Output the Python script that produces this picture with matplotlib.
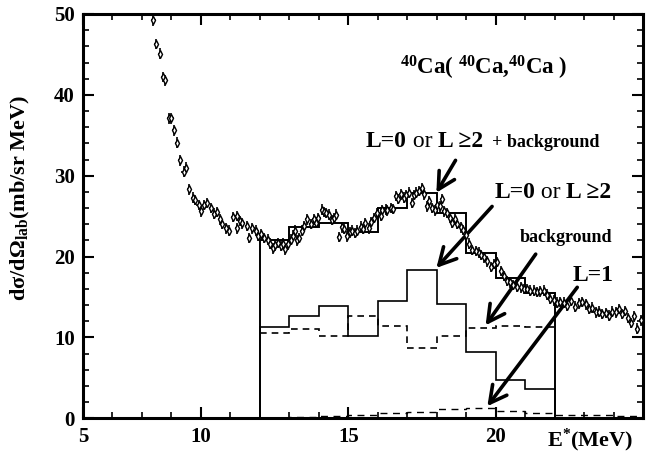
import numpy as np
import matplotlib
matplotlib.use("Agg")
import matplotlib.pyplot as plt
from matplotlib.offsetbox import TextArea, HPacker, AnnotationBbox
from matplotlib.ticker import MultipleLocator

plt.rcParams['font.family'] = ['Liberation Serif', 'DejaVu Serif']
plt.rcParams['font.weight'] = 'bold'
plt.rcParams['axes.labelweight'] = 'bold'
plt.rcParams['mathtext.fontset'] = 'custom'
plt.rcParams['mathtext.rm'] = 'Liberation Serif:bold'
plt.rcParams['mathtext.bf'] = 'Liberation Serif:bold'
plt.rcParams['mathtext.it'] = 'Liberation Serif:bold:italic'

# =========================
# DATA
# =========================
energy = [8.39, 8.49, 8.61, 8.70, 8.78, 8.93, 9.00, 9.08, 9.20, 9.30,
          9.41, 9.49, 9.60, 9.72, 9.80, 9.92, 10.00, 10.11, 10.22, 10.34,
          10.45, 10.56, 10.65, 10.73, 10.85, 10.96, 11.09, 11.21, 11.24, 11.33,
          11.41, 11.55, 11.64, 11.75, 11.86, 11.95, 12.05, 12.15, 12.26, 12.35,
          12.43, 12.52, 12.60, 12.71, 12.80, 12.86, 12.95, 13.05, 13.12, 13.20,
          13.27, 13.33, 13.42, 13.50, 13.61, 13.73, 13.84, 13.92, 13.99, 14.10,
          14.17, 14.24, 14.35, 14.46, 14.53, 14.60, 14.69, 14.78, 14.86, 14.97,
          15.05, 15.14, 15.22, 15.31, 15.42, 15.50, 15.57, 15.70, 15.78, 15.87,
          15.99, 16.10, 16.16, 16.27, 16.33, 16.44, 16.53, 16.61, 16.70, 16.78,
          16.89, 16.97, 17.06, 17.17, 17.24, 17.31, 17.40, 17.49, 17.57, 17.68,
          17.74, 17.85, 17.93, 18.02, 18.10, 18.17, 18.25, 18.36, 18.45, 18.53,
          18.62, 18.70, 18.81, 18.90, 19.00, 19.10, 19.21, 19.32, 19.43, 19.52,
          19.60, 19.72, 19.83, 19.94, 20.05, 20.17, 20.28, 20.39, 20.50, 20.60,
          20.72, 20.85, 20.95, 21.07, 21.18, 21.30, 21.40, 21.52, 21.63, 21.75,
          21.86, 21.97, 22.09, 22.20, 22.32, 22.43, 22.55, 22.70, 22.82, 22.94,
          23.05, 23.16, 23.27, 23.39, 23.50, 23.61, 23.73, 23.84, 23.95, 24.07,
          24.18, 24.29, 24.40, 24.50, 24.58, 24.70, 24.80, 24.92]
xsec = [49.2, 46.3, 45.1, 42.2, 41.8, 37.1, 37.1, 35.6, 34.1, 31.9,
        30.5, 31.0, 28.3, 27.3, 27.0, 26.4, 25.6, 26.4, 26.6, 26.0,
        25.3, 25.5, 24.6, 24.0, 23.5, 23.2, 24.9, 23.5, 25.0, 24.4,
        24.1, 23.8, 22.3, 23.5, 23.2, 22.6, 22.8, 22.3, 22.1, 21.6,
        21.0, 21.4, 21.7, 21.3, 21.6, 20.9, 21.5, 22.1, 22.6, 23.2,
        22.0, 22.3, 23.2, 23.8, 24.6, 24.0, 24.6, 24.2, 24.8, 25.8,
        25.5, 25.4, 25.2, 24.5, 24.8, 25.2, 22.4, 23.6, 23.4, 22.5,
        23.0, 23.2, 22.9, 23.2, 23.7, 23.4, 24.1, 23.5, 24.3, 24.8,
        25.4, 25.0, 25.7, 25.8, 25.7, 26.0, 25.9, 27.5, 27.1, 27.7,
        27.3, 27.6, 27.9, 26.6, 27.6, 27.9, 28.1, 28.5, 27.7, 26.2,
        26.9, 26.0, 25.7, 26.4, 26.2, 27.1, 25.6, 25.4, 24.8, 24.2,
        24.6, 24.0, 23.6, 23.3, 22.7, 21.6, 20.8, 20.7, 20.5, 20.2,
        19.9, 19.4, 18.7, 19.1, 19.3, 18.2, 17.6, 17.0, 16.8, 16.5,
        16.3, 16.2, 16.0, 16.0, 15.8, 15.8, 15.6, 15.7, 15.8, 15.3,
        14.8, 14.6, 14.3, 14.4, 14.3, 13.9, 14.5, 13.8, 14.2, 14.4,
        14.1, 13.5, 13.7, 13.1, 13.2, 12.9, 13.0, 12.7, 13.2, 13.1,
        13.5, 12.9, 13.3, 12.4, 11.8, 12.6, 11.1, 12.1]

bin_edges = [12, 13, 14, 15, 16, 17, 18, 19, 20, 21, 22]
total_fit = [22.1, 23.6, 24.2, 23.0, 26.0, 27.9, 25.4, 20.5, 17.3, 15.5]
l0_l2 = [11.3, 12.6, 13.9, 10.2, 14.5, 18.4, 14.1, 8.2, 4.7, 3.6]
background = [10.6, 11.0, 10.2, 12.7, 11.4, 8.7, 10.2, 11.2, 11.4, 11.3]

l1_edges = [12, 13, 14, 15, 16, 17, 18, 19, 20, 21, 22, 23, 24, 25]
l1 = [0.1, 0.2, 0.3, 0.4, 0.6, 0.8, 1.1, 1.3, 0.9, 0.7, 0.45, 0.4, 0.3]

# =========================
# PLOT
# =========================
fig = plt.figure(figsize=(6.6, 4.54), dpi=100)
ax = fig.add_axes([0.1258, 0.0786, 0.8484, 0.8906])

ax.errorbar(energy, xsec, yerr=0.65, xerr=0.07, fmt='d', ms=3.8,
            mfc='white', mec='black', mew=1.0, ecolor='black',
            elinewidth=1.2, capsize=0, zorder=3)

ax.stairs(total_fit, bin_edges, baseline=0, color='black', lw=1.4)
ax.stairs(l0_l2, bin_edges, baseline=0, color='black', lw=1.2)
ax.stairs(background, bin_edges, baseline=None, color='black', lw=1.2,
          linestyle=(0, (4, 3)))
ax.stairs(l1, l1_edges, baseline=None, color='black', lw=1.0,
          linestyle=(0, (5, 4)))

ax.set_xlim(6, 25)
ax.set_ylim(0, 50)
ax.set_xticks([6, 10, 15, 20], labels=['5', '10', '15', '20'])
ax.set_yticks([0, 10, 20, 30, 40, 50])
ax.xaxis.set_minor_locator(MultipleLocator(1))
ax.yaxis.set_minor_locator(MultipleLocator(2))
ax.tick_params(which='both', direction='in', top=True, right=True,
               labelsize=15)
ax.tick_params(which='major', length=8, width=1.5, pad=6)
ax.tick_params(which='minor', length=4, width=1.2)
for sp in ax.spines.values():
    sp.set_linewidth(2.2)

ax.set_ylabel('dσ/dΩ$_{\\mathbf{lab}}$(mb/sr MeV)', fontsize=16)
ax.yaxis.set_label_coords(-0.091, 0.545)
fig.text(590 / 660, 1 - 440 / 454, 'E$^{\\mathbf{*}}$(MeV)', fontsize=16,
         ha='center', va='center')

ax.text(19.6, 43.3, '$^{\\mathbf{40}}$Ca( $^{\\mathbf{40}}$Ca,$^{\\mathbf{40}}$Ca )',
        fontsize=16.5, ha='center', va='center')


def label_box(with_bg):
    parts = [TextArea('L=0', textprops=dict(fontsize=17, fontweight='bold')),
             TextArea(' or ', textprops=dict(fontsize=17, fontweight='normal')),
             TextArea('L ≥2', textprops=dict(fontsize=17, fontweight='bold'))]
    if with_bg:
        parts.append(TextArea('  + background',
                              textprops=dict(fontsize=13, fontweight='bold')))
    return HPacker(children=parts, align='baseline', pad=0, sep=0)


ax.add_artist(AnnotationBbox(label_box(True), (15.6, 34.2), xycoords='data',
                             box_alignment=(0, 0.5), frameon=False))
ax.add_artist(AnnotationBbox(label_box(False), (19.95, 27.9), xycoords='data',
                             box_alignment=(0, 0.5), frameon=False))
ax.text(22.4, 22.3, 'background', fontsize=13, ha='center', va='center')
ax.text(23.3, 17.7, 'L=1', fontsize=17, ha='center', va='center')

arrows = [((18.64, 31.9), (17.99, 27.9)),
          ((19.88, 26.2), (17.99, 18.6)),
          ((21.36, 20.3), (19.66, 11.5)),
          ((22.77, 16.2), (19.72, 1.5))]
for tail, head in arrows:
    ax.annotate('', xy=head, xytext=tail,
                arrowprops=dict(arrowstyle='->,head_length=0.6,head_width=0.32',
                                lw=2.6, color='black', mutation_scale=20,
                                shrinkA=0, shrinkB=0))

fig.savefig('out.png', dpi=100)
